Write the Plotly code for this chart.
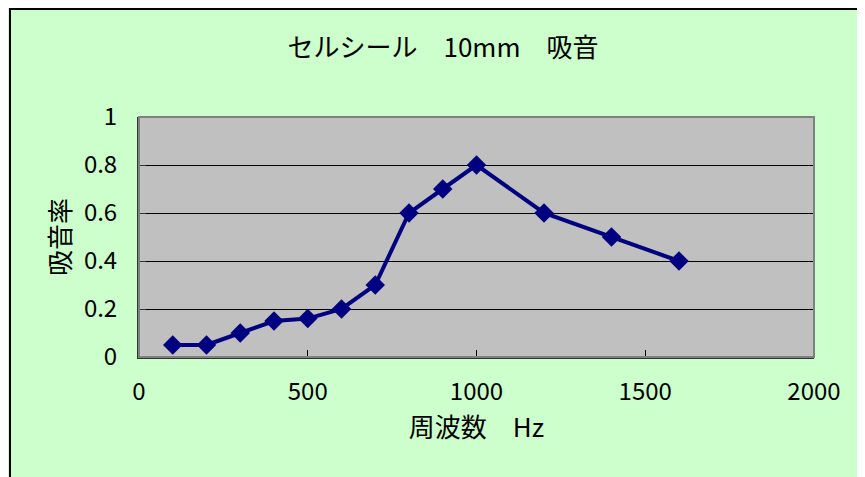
import plotly.graph_objects as go

freq = [100, 200, 300, 400, 500, 600, 700, 800, 900, 1000, 1200, 1400, 1600]
absorption = [0.05, 0.05, 0.10, 0.15, 0.16, 0.20, 0.30, 0.60, 0.70, 0.80, 0.60, 0.50, 0.40]
title_text = "セルシール\u300010mm\u3000吸音"
x_title = "周波数\u3000Hz"
y_title = "吸音率"

FONT = "Noto Sans CJK JP, Arial, sans-serif"
FS = 24     # tick labels
FT = 26     # titles
OFF = 8     # page body margin

fig = go.Figure()
fig.add_trace(go.Scatter(
    x=freq, y=absorption, mode="lines+markers",
    line=dict(color="#000080", width=4),
    marker=dict(symbol="diamond", size=15, color="#000080"),
    showlegend=False,
))

W, H = 865 - OFF, 477 - OFF
L, T = 139 - OFF, 117 - OFF
R = W - (814 - OFF)
B = H - (357 - OFF)
pw = W - L - R
ph = H - T - B

fig.update_layout(
    width=W, height=H,
    margin=dict(l=L, r=R, t=T, b=B),
    paper_bgcolor="#CCFFCC",
    plot_bgcolor="#C0C0C0",
    font=dict(family=FONT, size=FS, color="#000000"),
    title=dict(text=title_text, x=(443 - OFF - L) / pw, xref="paper", xanchor="center",
               y=1 - (48 - OFF) / H, yanchor="middle", font=dict(size=FT)),
)
fig.update_xaxes(
    range=[0, 2000], tickvals=[0, 500, 1000, 1500, 2000],
    ticks="inside", ticklen=7, tickcolor="#000000", tickwidth=1,
    showline=True, linecolor="#333333", linewidth=2,
    showgrid=False, zeroline=False,
    ticklabelstandoff=12,
    title=dict(text=x_title, standoff=8, font=dict(size=FT)),
)
fig.update_yaxes(
    range=[0, 1], tickvals=[0, 0.2, 0.4, 0.6, 0.8, 1], ticktext=["0", "0.2", "0.4", "0.6", "0.8", "1"],
    ticks="inside", ticklen=7, tickcolor="#333333", tickwidth=1,
    showline=True, linecolor="#333333", linewidth=2,
    showgrid=True, gridcolor="#000000", gridwidth=1,
    zeroline=False,
    ticklabelstandoff=15,
    title=dict(text=y_title, standoff=6, font=dict(size=FT)),
)

# plot area border (gray, Excel-style)
fig.add_shape(type="rect", xref="paper", yref="paper", x0=0, x1=1, y0=0, y1=1,
              line=dict(color="#808080", width=2), layer="above")
# outer chart border
fig.add_shape(type="rect", xref="paper", yref="paper",
              x0=(10 - OFF - L) / pw, x1=1.3, y0=-1.0, y1=(H - B - (9 - OFF)) / ph,
              line=dict(color="#000000", width=2), fillcolor="rgba(0,0,0,0)", layer="below")

fig.write_html("out.html")
